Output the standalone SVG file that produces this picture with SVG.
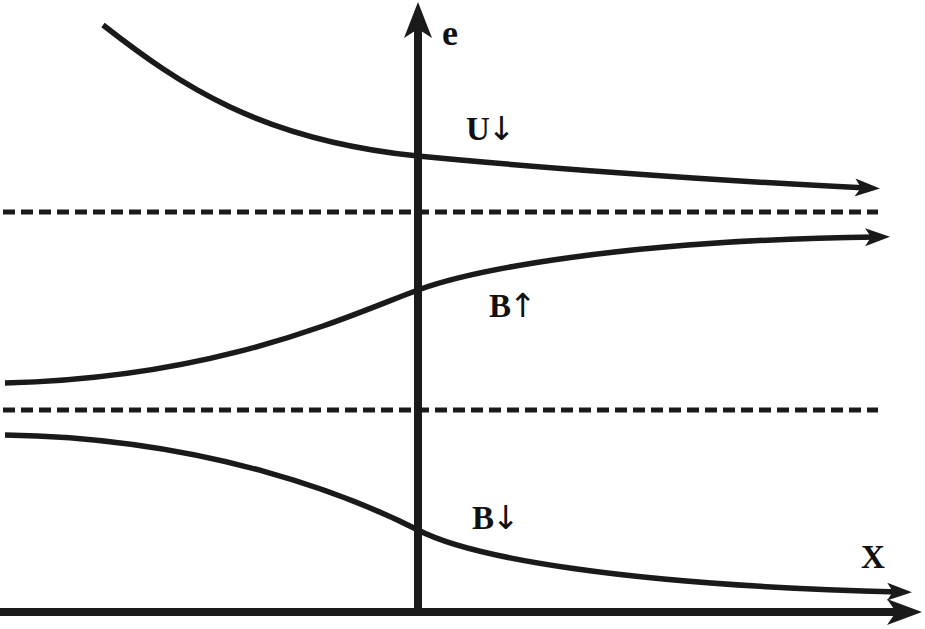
<svg xmlns="http://www.w3.org/2000/svg" width="925" height="629" viewBox="0 0 925 629">
<style>
.curve{fill:none;stroke:#1a1a1a;stroke-width:5.5;marker-end:url(#ah)}
.dash{fill:none;stroke:#1a1a1a;stroke-width:5;stroke-dasharray:12 6}
.axis{fill:none;stroke:#1a1a1a;stroke-width:8}
.head{fill:#1a1a1a}
.lbl{font-family:"Liberation Serif","DejaVu Serif",serif;font-weight:bold;fill:#111}
.arr{font-family:"DejaVu Sans",sans-serif;font-weight:normal}
</style>
<defs>
<marker id="ah" markerUnits="userSpaceOnUse" markerWidth="30" markerHeight="22" viewBox="0 -11 30 22" refX="12" refY="0" orient="auto">
<path d="M0,-9 L25,0 L0,9 L6,0 z" fill="#1a1a1a"/>
</marker>
</defs>
<rect width="925" height="629" fill="#fff"/>
<g id="guides">
<line class="dash" x1="3" y1="212" x2="878" y2="212"/>
<line class="dash" x1="3" y1="410" x2="878" y2="410"/>
</g>
<g id="axes">
<line class="axis" x1="418" y1="615" x2="418" y2="22"/>
<polygon class="head" points="418,2 404,38 418,29 432,38"/>
<line class="axis" x1="0" y1="612" x2="900" y2="612"/>
<polygon class="head" points="922,612 887,599 896,612 887,625"/>
</g>
<g id="connectors">
<path id="curve-U" class="curve" d="M103,25 C180,85 260,140 418,156 C520,166 700,180 867,188"/>
<path id="curve-Bup" class="curve" d="M5,383 C220,378 350,315 418,290 C470,271 620,240 877,237"/>
<path id="curve-Bdown" class="curve" d="M5,435 C210,438 355,498 418,530 C470,557 620,585 899,592"/>
</g>
<g id="label-e"><text class="lbl" x="442" y="45" font-size="36">e</text></g>
<g id="label-X"><text class="lbl" x="861" y="568" font-size="33">X</text></g>
<g id="label-U"><text class="lbl" x="466" y="140" font-size="33">U<tspan class="arr" dx="-2">↓</tspan></text></g>
<g id="label-Bup"><text class="lbl" x="489" y="317" font-size="33">B<tspan class="arr" dx="-2">↑</tspan></text></g>
<g id="label-Bdown"><text class="lbl" x="472" y="529" font-size="33">B<tspan class="arr" dx="-2">↓</tspan></text></g>
</svg>
